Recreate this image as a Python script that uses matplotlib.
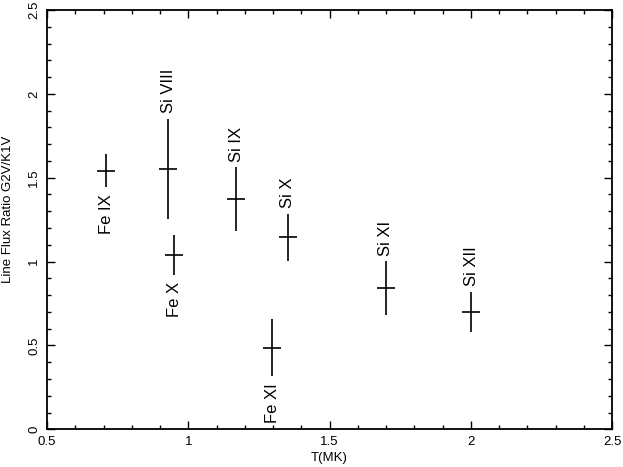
import matplotlib
matplotlib.use("Agg")
import matplotlib.pyplot as plt
from matplotlib.ticker import MultipleLocator

plt.rcParams['font.family'] = ['Liberation Sans', 'DejaVu Sans']

ions = ["Fe IX", "Si VIII", "Fe X", "Si IX", "Fe XI", "Si X", "Si XI", "Si XII"]
temps = [0.71, 0.929, 0.950, 1.170, 1.298, 1.352, 1.700, 2.001]
ratios = [1.542, 1.552, 1.039, 1.372, 0.487, 1.145, 0.841, 0.701]
ratio_err = [0.10, 0.30, 0.12, 0.19, 0.17, 0.14, 0.16, 0.12]
temp_err = [0.032] * len(ions)
label_side = ["below", "above", "below", "above", "below", "above", "above", "above"]

fig = plt.figure(figsize=(6.23, 4.67), dpi=100)
ax = fig.add_axes([47/623, 1-429.3/467, (612-47)/623, (429.3-10)/467])

ax.errorbar(temps, ratios, yerr=ratio_err, xerr=temp_err, fmt='none',
            ecolor='black', elinewidth=1.2, capsize=0)

for t, r, e, name, side in zip(temps, ratios, ratio_err, ions, label_side):
    if side == "above":
        ax.annotate(name, (t, r + e), xytext=(0, 4), textcoords='offset points',
                    rotation=90, ha='center', va='bottom', fontsize=12)
    else:
        ax.annotate(name, (t, r - e), xytext=(0, -5), textcoords='offset points',
                    rotation=90, ha='center', va='top', fontsize=12)

ax.set_xlim(0.5, 2.5)
ax.set_ylim(0, 2.5)
ax.xaxis.set_major_locator(MultipleLocator(0.5))
ax.xaxis.set_minor_locator(MultipleLocator(0.1))
ax.yaxis.set_major_locator(MultipleLocator(0.5))
ax.yaxis.set_minor_locator(MultipleLocator(0.1))
ax.set_xticks([0.5, 1, 1.5, 2, 2.5])
ax.set_xticklabels(["0.5", "1", "1.5", "2", "2.5"])
ax.set_yticks([0, 0.5, 1, 1.5, 2, 2.5])
ax.set_yticklabels(["0", "0.5", "1", "1.5", "2", "2.5"])
ax.tick_params(which='both', direction='in', top=True, right=True, labelsize=9.5, width=1.0)
ax.tick_params(which='major', length=6)
ax.tick_params(which='minor', length=3)
ax.tick_params(axis='x', pad=5)
ax.tick_params(axis='y', pad=5)
for lab in ax.get_yticklabels():
    lab.set_rotation(90)
    lab.set_va('center')
for s in ax.spines.values():
    s.set_linewidth(1.3)

ax.set_xlabel("T(MK)", fontsize=9.5, labelpad=3)
fig.text(8/623, 1-209/467, "Line Flux Ratio G2V/K1V", rotation=90, fontsize=9.5,
         ha='center', va='center')

fig.savefig("out.png", dpi=100)
